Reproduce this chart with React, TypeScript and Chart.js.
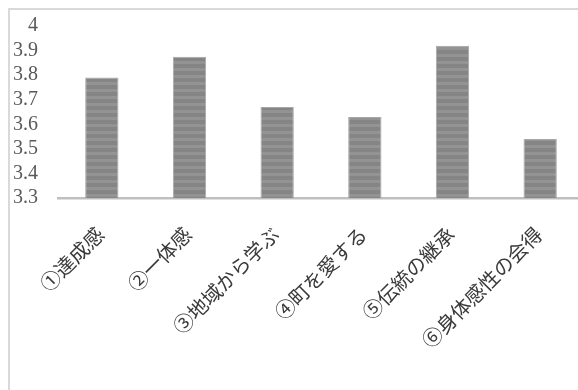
import React, { useEffect, useRef } from "react";
import { Chart, registerables } from "chart.js";

Chart.register(...registerables);

const categories = ["①達成感", "②一体感", "③地域から学ぶ", "④町を愛する", "⑤伝統の継承", "⑥身体感性の会得"];
const values = [3.79, 3.875, 3.67, 3.63, 3.92, 3.54];
const yMin = 3.3;
const yMax = 4;
const yStep = 0.1;

const SHIFT = 6;

function makePattern(): CanvasPattern | string {
  const c = document.createElement("canvas");
  c.width = 4;
  c.height = 7;
  const ctx = c.getContext("2d");
  if (!ctx) return "#8a8a8a";
  ctx.fillStyle = "#858585";
  ctx.fillRect(0, 0, 4, 4);
  ctx.fillStyle = "#939393";
  ctx.fillRect(0, 4, 4, 3);
  const p = ctx.createPattern(c, "repeat");
  return p || "#8a8a8a";
}

const framePlugin = {
  id: "frame",
  beforeDraw(chart: any) {
    const ctx = chart.ctx;
    ctx.save();
    ctx.fillStyle = "#ffffff";
    ctx.fillRect(0, 0, chart.width, chart.height);
    ctx.strokeStyle = "#d9d9d9";
    ctx.lineWidth = 2;
    ctx.strokeRect(9, 9 + SHIFT, chart.width + 20, chart.height + 20);
    ctx.restore();
  },
};

export default function App() {
  const ref = useRef<HTMLCanvasElement>(null);
  useEffect(() => {
    if (!ref.current) return;
    const chart = new Chart(ref.current, {
      type: "bar",
      data: {
        labels: categories,
        datasets: [
          {
            data: values,
            backgroundColor: makePattern() as any,
            borderColor: "#a8a8a8",
            borderWidth: { top: 1, left: 1, right: 1, bottom: 0 } as any,
            barPercentage: 0.76,
            categoryPercentage: 0.5,
          },
        ],
      },
      options: {
        animation: false,
        responsive: false,
        devicePixelRatio: 1,
        layout: { padding: { top: 0, right: 6, left: 0, bottom: 0 } },
        plugins: { legend: { display: false }, tooltip: { enabled: false } },
        scales: {
          x: {
            grid: { display: false, drawTicks: false },
            border: { display: true, color: "#bfbfbf", width: 2.5 },
            ticks: {
              minRotation: 45,
              maxRotation: 45,
              padding: 26,
              autoSkip: false,
              color: "#3a3a3a",
              font: { family: "'Liberation Serif', 'Noto Sans CJK JP'", size: 20 },
            },
            afterFit: (s: any) => {
              s.height = 192;
            },
          },
          y: {
            min: yMin,
            max: yMax,
            grid: { display: false, drawTicks: false },
            border: { display: false },
            ticks: {
              stepSize: yStep,
              autoSkip: false,
              padding: 20,
              color: "#595959",
              font: { family: "'Liberation Serif', serif", size: 20 },
              callback: (v: any) => String(Number(Number(v).toFixed(1))),
            },
            afterFit: (s: any) => {
              s.width = 58;
            },
          },
        },
      },
      plugins: [framePlugin],
    });
    return () => chart.destroy();
  }, []);
  return (
    <div style={{ position: "absolute", left: 0, top: 0, width: 578, height: 390, overflow: "hidden", background: "#fff" }}>
      <canvas
        ref={ref}
        width={590}
        height={390 + SHIFT}
        style={{ display: "block", position: "absolute", left: 0, top: -SHIFT }}
      />
    </div>
  );
}
